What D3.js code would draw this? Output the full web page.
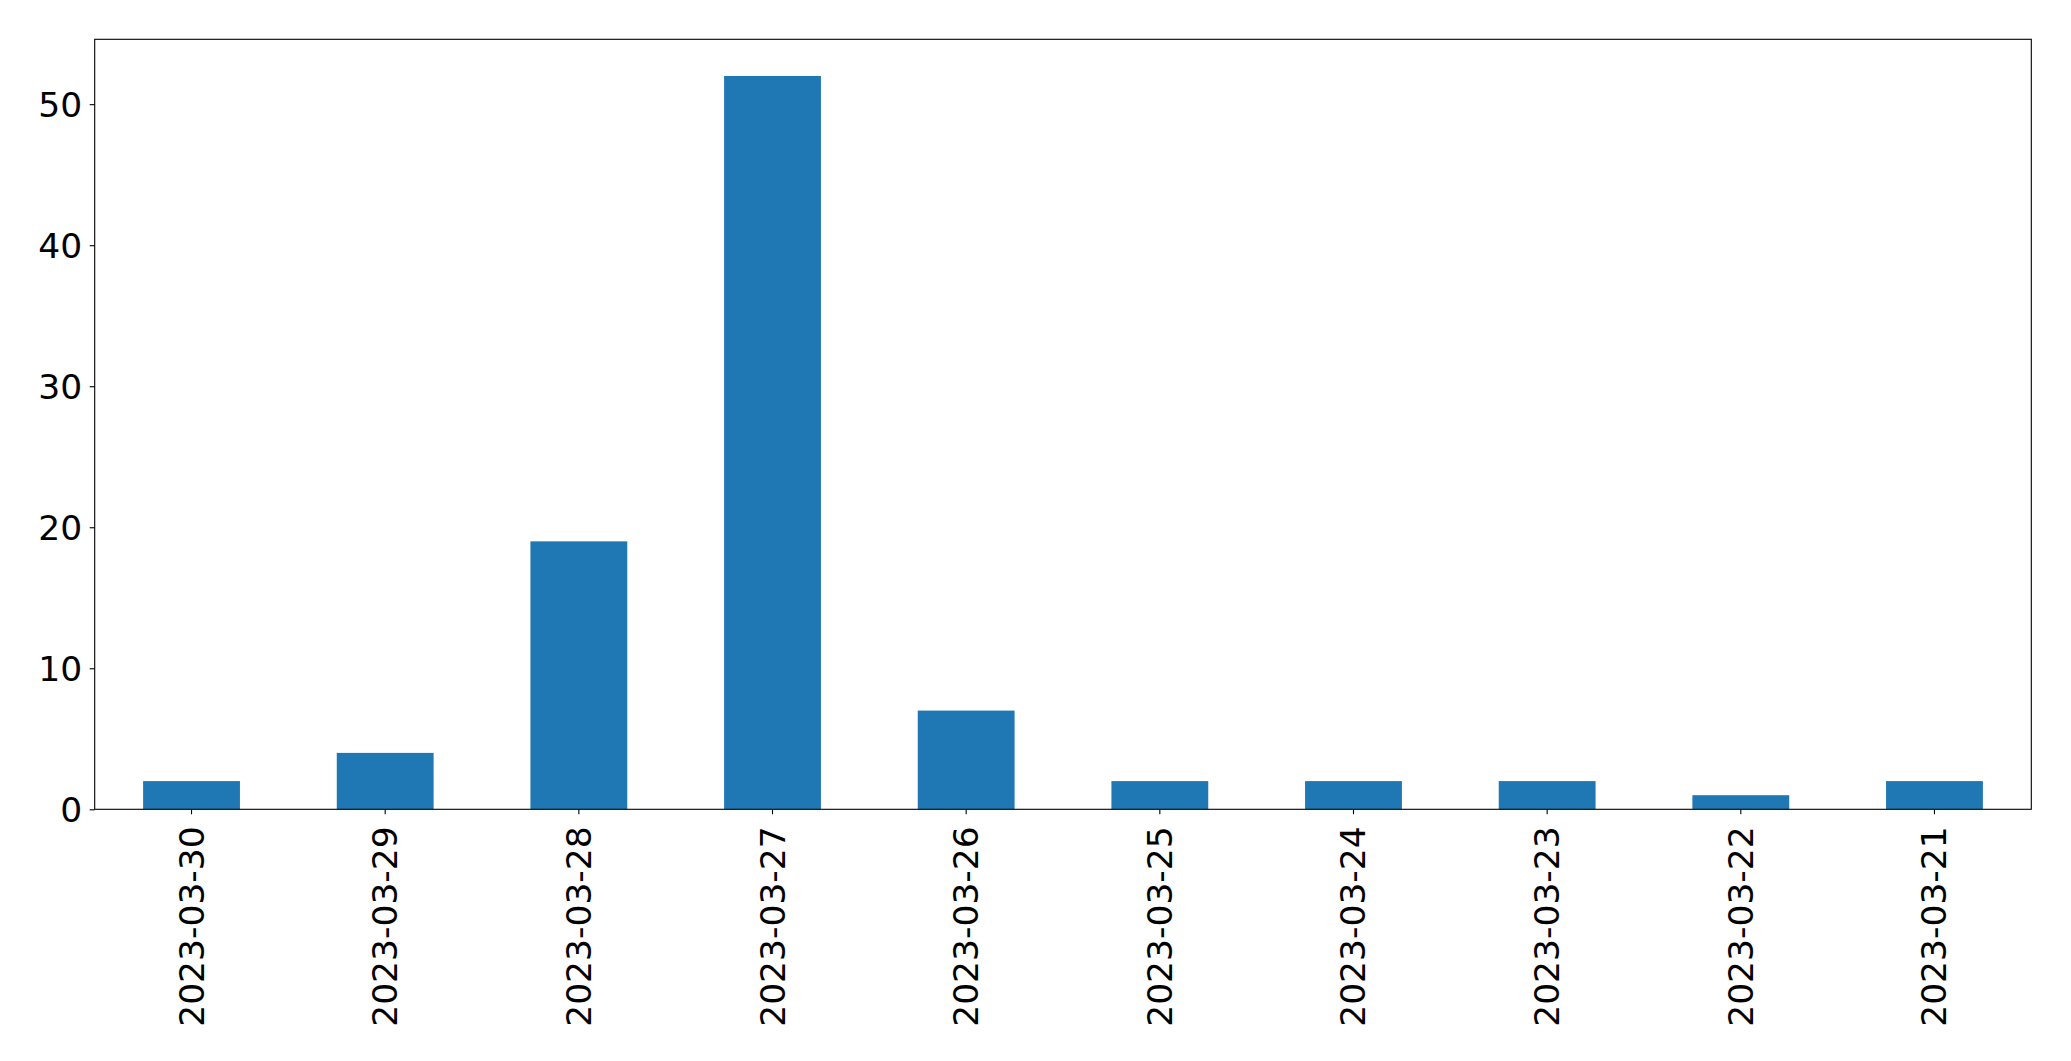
<!DOCTYPE html>
<html><head><meta charset="utf-8">
<script src="https://cdn.jsdelivr.net/npm/d3@7"></script>
<style>body{margin:0;background:#fff}svg{display:block}</style>
</head><body>
<script>
const categories = ["2023-03-30","2023-03-29","2023-03-28","2023-03-27","2023-03-26","2023-03-25","2023-03-24","2023-03-23","2023-03-22","2023-03-21"];
const values = [2,4,19,52,7,2,2,2,1,2];
const yTicks = [0,10,20,30,40,50];

const W = 2071, H = 1061;
const m = {left:94.7, right:2031.3, top:39.3, bottom:809.3};
const svg = d3.select("body").append("svg").attr("width",W).attr("height",H);

const x = d3.scaleBand().domain(categories).range([m.left,m.right]).paddingInner(0.5).paddingOuter(0.25);
const y = d3.scaleLinear().domain([0, 54.6]).range([m.bottom, m.top]);

svg.append("g").selectAll("rect").data(values).join("rect")
  .attr("x",(d,i)=>x(categories[i]))
  .attr("width",x.bandwidth())
  .attr("y",d=>y(d))
  .attr("height",d=>y(0)-y(d))
  .attr("fill","#1f77b4");

const font = "DejaVu Sans, sans-serif";
const xa = svg.append("g").attr("transform",`translate(0,${m.bottom})`)
  .call(d3.axisBottom(x).tickSize(5).tickSizeOuter(0));
xa.select(".domain").remove();
xa.selectAll("line").attr("stroke","#000").attr("stroke-width",1.1);
xa.selectAll("text")
  .attr("font-family",font).attr("font-size",34.5).attr("fill","#000")
  .attr("text-anchor","end").attr("dy",null).attr("y",null)
  .attr("dominant-baseline","central")
  .attr("transform","translate(0,17) rotate(-90)");

const ya = svg.append("g").attr("transform",`translate(${m.left},0)`)
  .call(d3.axisLeft(y).tickValues(yTicks).tickSize(5).tickPadding(7.5).tickSizeOuter(0));
ya.select(".domain").remove();
ya.selectAll("line").attr("stroke","#000").attr("stroke-width",1.1);
ya.selectAll("text").attr("font-family",font).attr("font-size",34.5).attr("fill","#000")
  .attr("dy",null).attr("dominant-baseline","central");

svg.append("rect").attr("x",m.left).attr("y",m.top)
  .attr("width",m.right-m.left).attr("height",m.bottom-m.top)
  .attr("fill","none").attr("stroke","#000").attr("stroke-width",1.1);
</script>
</body></html>
